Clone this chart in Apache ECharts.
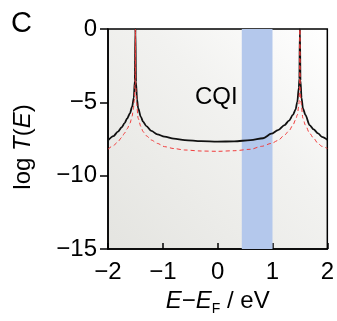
<!DOCTYPE html>
<html>
<head>
<meta charset="utf-8">
<script src="https://cdn.jsdelivr.net/npm/echarts@6/dist/echarts.min.js"></script>
<style>
  html, body { margin: 0; padding: 0; background: #fff; }
  #chart { width: 337px; height: 321px; }
</style>
</head>
<body>
<div id="chart"></div>
<script>
// log T(E) vs E - EF, CQI panel
const xTicks = [-2, -1, 0, 1, 2];
const yTicks = [0, -5, -10, -15];
const band = [0.44, 1.0];

const xBlack = [-2.0, -1.9, -1.82, -1.75, -1.7, -1.65, -1.6, -1.56, -1.53, -1.51, -1.5,
  -1.49, -1.47, -1.45, -1.4, -1.36, -1.3, -1.21, -1.1, -0.97, -0.8, -0.6, -0.3, 0.0,
  0.3, 0.6, 0.83, 0.98, 1.1, 1.22, 1.3, 1.373, 1.42, 1.453, 1.48, 1.49, 1.5,
  1.51, 1.53, 1.555, 1.6, 1.677, 1.75, 1.83, 1.9, 2.0];
const yBlack = [-7.6, -7.3, -7.0, -6.7, -6.43, -6.1, -5.75, -5.3, -4.7, -3.5, 0,
  -3.6, -4.8, -5.4, -6.0, -6.32, -6.62, -6.95, -7.18, -7.34, -7.48, -7.57, -7.65, -7.68,
  -7.66, -7.58, -7.45, -7.14, -6.9, -6.55, -6.25, -5.86, -5.5, -4.95, -4.0, -3.4, 0,
  -3.5, -4.7, -5.41, -5.85, -6.55, -6.85, -7.11, -7.35, -7.55];

const xRed = [-2.0, -1.9, -1.82, -1.75, -1.7, -1.65, -1.6, -1.56, -1.54, -1.52, -1.505, -1.5,
  -1.495, -1.48, -1.45, -1.4, -1.36, -1.3, -1.21, -1.1, -0.97, -0.8, -0.6, -0.3, 0.0,
  0.3, 0.6, 0.8, 0.98, 1.1, 1.22, 1.3, 1.373, 1.42, 1.453, 1.48, 1.495, 1.5,
  1.505, 1.52, 1.555, 1.6, 1.677, 1.75, 1.83, 1.9, 2.0];
const yRed = [-8.2, -7.95, -7.68, -7.4, -7.11, -6.8, -6.43, -5.95, -5.5, -4.9, -3.5, 0,
  -3.8, -5.0, -6.09, -6.65, -7.0, -7.28, -7.57, -7.8, -8.02, -8.15, -8.25, -8.32, -8.34,
  -8.3, -8.2, -8.0, -7.8, -7.6, -7.23, -6.95, -6.55, -6.2, -5.86, -5.2, -4.0, 0,
  -4.0, -5.0, -6.09, -6.55, -7.11, -7.45, -7.8, -8.0, -8.15];

const zip = (xs, ys) => xs.map((x, i) => [x, ys[i]]);
const font = 'Liberation Sans, Arial, sans-serif';

const chart = echarts.init(document.getElementById('chart'));
chart.setOption({
  animation: false,
  grid: {
    left: 108, right: 9, top: 29, bottom: 72,
    show: true,
    borderColor: '#000', borderWidth: 1.5,
    backgroundColor: {
      type: 'linear', x: 0, y: 1, x2: 1, y2: 0,
      colorStops: [
        { offset: 0, color: '#e4e4e0' },
        { offset: 0.6, color: '#f2f2f0' },
        { offset: 1, color: '#ffffff' },
      ],
    },
  },
  xAxis: {
    type: 'value', min: -2, max: 2, interval: 1,
    axisLine: { show: true, onZero: false, lineStyle: { color: '#000', width: 1.5 } },
    axisTick: { show: true, inside: true, length: 6, lineStyle: { color: '#000', width: 1.5 } },
    axisLabel: {
      color: '#000', fontSize: 24, fontFamily: font, margin: 11,
      formatter: v => xTicks.includes(v) ? String(v).replace('-', '\u2212') : '',
    },
    splitLine: { show: false },
    name: '{i|E}\u2212{i|E}{sub|F} / eV',
    nameLocation: 'middle', nameGap: 40,
    nameTextStyle: {
      color: '#000', fontSize: 24, fontFamily: font,
      rich: {
        i: { fontStyle: 'italic', fontSize: 24, fontFamily: font, color: '#000' },
        sub: { fontSize: 14, fontFamily: font, color: '#000', verticalAlign: 'bottom', padding: [0, 0, -3, 0] },
      },
    },
  },
  yAxis: {
    type: 'value', min: -15, max: 0, interval: 5,
    axisLine: { show: true, onZero: false, lineStyle: { color: '#000', width: 1.5 } },
    axisTick: { show: true, inside: false, length: 8, lineStyle: { color: '#000', width: 1.5 } },
    axisLabel: {
      color: '#000', fontSize: 24, fontFamily: font, margin: 11,
      formatter: v => yTicks.includes(v) ? String(v).replace('-', '\u2212') : '',
    },
    splitLine: { show: false },
    name: 'log {i|T}({i|E})',
    nameLocation: 'middle', nameGap: 73, nameRotate: 90,
    nameTextStyle: {
      color: '#000', fontSize: 24, fontFamily: font,
      padding: [0, 16, 0, 0],
      rich: {
        i: { fontStyle: 'italic', fontSize: 24, fontFamily: font, color: '#000' },
      },
    },
  },
  graphic: [
    { type: 'text', left: 11, top: 9, style: { text: 'C', fontSize: 29, fontFamily: font, fill: '#000' } },
    { type: 'text', left: 195, top: 85, style: { text: 'CQI', fontSize: 24, fontFamily: font, fill: '#000' } },
  ],
  series: [
    {
      type: 'line', data: [], z: 1,
      markArea: {
        silent: true,
        itemStyle: { color: '#b4c8ec', opacity: 1 },
        data: [[{ xAxis: band[0] }, { xAxis: band[1] }]],
      },
    },
    {
      type: 'line', data: zip(xBlack, yBlack), z: 3,
      symbol: 'none', smooth: 0.3, smoothMonotone: 'x',
      lineStyle: { color: '#111', width: 1.8 },
    },
    {
      type: 'line', data: zip(xRed, yRed), z: 4,
      symbol: 'none', smooth: 0.3, smoothMonotone: 'x',
      lineStyle: { color: '#f03c3c', width: 1, type: [4, 3] },
    },
  ],
});
</script>
</body>
</html>
